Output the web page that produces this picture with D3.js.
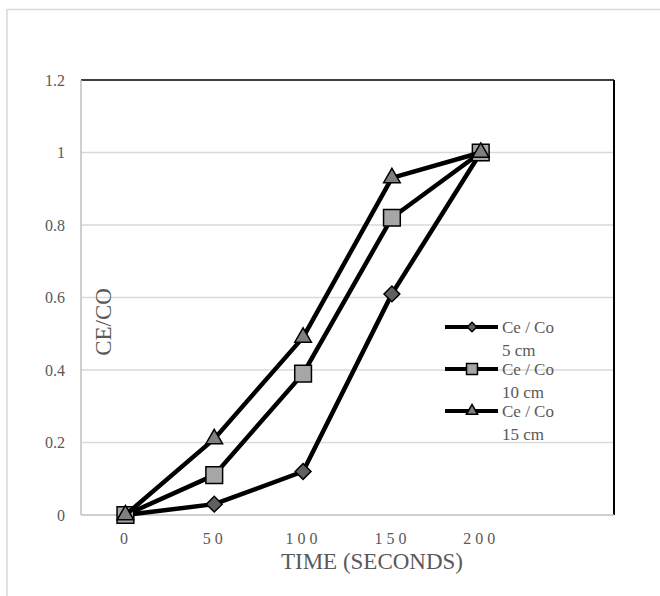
<!DOCTYPE html>
<html lang="en">
<head>
    <meta charset="UTF-8">
    <title>CE/CO vs Time</title>
    <script src="https://d3js.org/d3.v7.min.js"></script>
    <style>
        body { margin: 0; background: white; }
        text { font-family: "Liberation Serif", "Times New Roman", serif; fill: #595959; }
    </style>
</head>
<body>
    <div id="chart"></div>

    <script>
        // data
        var times = [0, 50, 100, 150, 200];
        var ce5 = [0, 0.03, 0.12, 0.61, 1];
        var ce10 = [0, 0.11, 0.39, 0.82, 1];
        var ce15 = [0, 0.21, 0.49, 0.93, 1];
        var seriesNames = ["Ce / Co|5 cm", "Ce / Co|10 cm", "Ce / Co|15 cm"];
        var xTicks = [0, 50, 100, 150, 200];
        var yTicks = [0, 0.2, 0.4, 0.6, 0.8, 1, 1.2];

        // diamond = square turned 45deg (d3's own diamond is too narrow)
        var series = [
            { name: seriesNames[0], values: ce5, shape: d3.symbolSquare, rot: 45, fill: "#606060", size: 125, legSize: 45 },
            { name: seriesNames[1], values: ce10, shape: d3.symbolSquare, rot: 0, fill: "#a6a6a6", size: 280, legSize: 120 },
            { name: seriesNames[2], values: ce15, shape: d3.symbolTriangle, rot: 0, fill: "#7f7f7f", size: 120, legSize: 55 }
        ];

        var svg = d3.select("#chart")
            .append("svg")
            .attr("width", 660)
            .attr("height", 596);

        // outer chart frame
        svg.append("rect")
            .attr("x", 7)
            .attr("y", 9.5)
            .attr("width", 700)
            .attr("height", 650)
            .attr("fill", "white")
            .attr("stroke", "#d9d9d9")
            .attr("stroke-width", 1.5);

        // plot area edges (window.top is reserved, so no "top" var)
        var plotL = 81, plotR = 614, plotT = 80, plotB = 515;

        var x = d3.scaleLinear().domain([-25, 275]).range([plotL, plotR]);
        var y = d3.scaleLinear().domain([0, 1.2]).range([plotB, plotT]);

        // gridlines
        svg.append("g")
            .selectAll("line")
            .data(yTicks.slice(1, -1))
            .enter().append("line")
            .attr("x1", plotL)
            .attr("x2", plotR)
            .attr("y1", function(d) { return y(d); })
            .attr("y2", function(d) { return y(d); })
            .attr("stroke", "#d9d9d9")
            .attr("stroke-width", 1.5);

        // plot border: top/right black, left/bottom gray
        svg.append("line").attr("x1", plotL).attr("x2", plotR).attr("y1", plotT).attr("y2", plotT)
            .attr("stroke", "black").attr("stroke-width", 1.5);
        svg.append("line").attr("x1", plotR).attr("x2", plotR).attr("y1", plotT).attr("y2", plotB)
            .attr("stroke", "black").attr("stroke-width", 2);
        svg.append("line").attr("x1", plotL).attr("x2", plotL).attr("y1", plotT).attr("y2", plotB)
            .attr("stroke", "#bfbfbf").attr("stroke-width", 1.5);
        svg.append("line").attr("x1", plotL).attr("x2", plotR).attr("y1", plotB).attr("y2", plotB)
            .attr("stroke", "#bfbfbf").attr("stroke-width", 1.5);

        // y axis
        var yAxis = svg.append("g")
            .attr("transform", "translate(" + plotL + ",0)")
            .call(d3.axisLeft(y).tickValues(yTicks).tickSize(0).tickPadding(16)
                .tickFormat(function(d) { return d3.format("~g")(d); }));
        yAxis.select(".domain").remove();
        yAxis.selectAll("text")
            .style("font-size", "16px")
            .attr("fill", "#595959");

        // x axis
        var xAxis = svg.append("g")
            .attr("transform", "translate(0," + plotB + ")")
            .call(d3.axisBottom(x).tickValues(xTicks).tickSize(0).tickPadding(18));
        xAxis.select(".domain").remove();
        xAxis.selectAll("text")
            .style("font-size", "16px")
            .style("letter-spacing", "4px")
            .attr("fill", "#595959");

        // axis titles
        svg.append("text")
            .attr("x", 372)
            .attr("y", 569)
            .attr("text-anchor", "middle")
            .style("font-size", "23px")
            .text("TIME (SECONDS)");

        svg.append("text")
            .attr("transform", "translate(111,322) rotate(-90)")
            .attr("text-anchor", "middle")
            .style("font-size", "23px")
            .text("CE/CO");

        var line = d3.line()
            .x(function(d, i) { return x(times[i]); })
            .y(function(d) { return y(d); });

        series.forEach(function(s) {
            svg.append("path")
                .datum(s.values)
                .attr("d", line)
                .attr("fill", "none")
                .attr("stroke", "black")
                .attr("stroke-width", 4.5)
                .attr("stroke-linejoin", "round");

            svg.append("g")
                .selectAll("path")
                .data(s.values)
                .enter().append("path")
                .attr("d", d3.symbol().type(s.shape).size(s.size))
                .attr("transform", function(d, i) {
                    return "translate(" + x(times[i]) + "," + y(d) + ") rotate(" + s.rot + ")";
                })
                .attr("fill", s.fill)
                .attr("stroke", "black")
                .attr("stroke-width", 1.5);
        });

        // legend
        var legend = svg.append("g")
            .attr("transform", "translate(445,327)");

        series.forEach(function(s, i) {
            var row = legend.append("g").attr("transform", "translate(0," + (i * 42) + ")");
            row.append("line")
                .attr("x1", 0).attr("x2", 53)
                .attr("stroke", "black")
                .attr("stroke-width", 4);
            row.append("path")
                .attr("d", d3.symbol().type(s.shape).size(s.legSize))
                .attr("transform", "translate(27,0) rotate(" + s.rot + ")")
                .attr("fill", s.fill)
                .attr("stroke", "black")
                .attr("stroke-width", 1.5);
            var parts = s.name.split("|");
            var t = row.append("text")
                .attr("x", 57)
                .attr("y", 6)
                .style("font-size", "17px");
            t.append("tspan").attr("x", 57).text(parts[0]);
            t.append("tspan").attr("x", 57).attr("dy", 23).text(parts[1]);
        });
    </script>
</body>
</html>
